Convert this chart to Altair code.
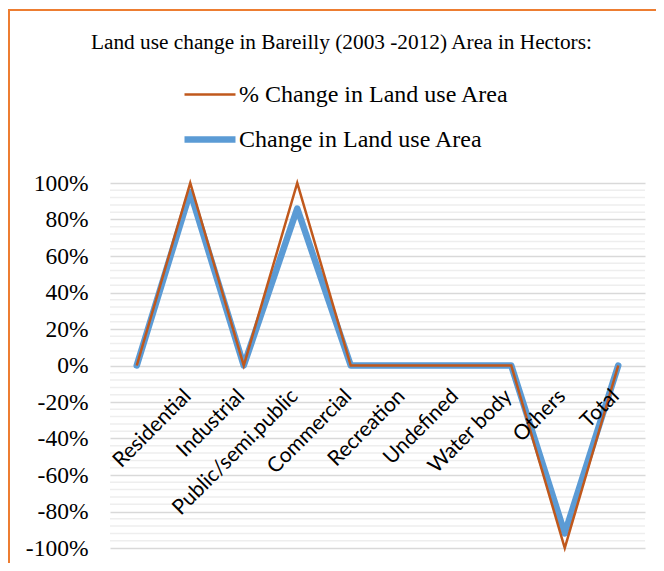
import altair as alt
import pandas as pd

title_text = "Land use change in Bareilly (2003 -2012) Area in Hectors:"
categories = ["", "Residential", "Industrial", "Public/semi.public", "Commercial",
              "Recreation", "Undefined", "Water body", "Others", "Total"]
pct_change = [0, 1.00, 0, 1.00, 0, 0, 0, 0, -1.00, 0]
area_change = [0, 0.95, 0, 0.86, 0, 0, 0, 0, -0.92, 0]
series_names = ["% Change in Land use Area", "Change in Land use Area"]
major_ticks = [-1.0, -0.8, -0.6, -0.4, -0.2, 0.0, 0.2, 0.4, 0.6, 0.8, 1.0]
minor_ticks = [-0.96, -0.92, -0.88, -0.84, -0.76, -0.72, -0.68, -0.64,
               -0.56, -0.52, -0.48, -0.44, -0.36, -0.32, -0.28, -0.24,
               -0.16, -0.12, -0.08, -0.04, 0.04, 0.08, 0.12, 0.16,
               0.24, 0.28, 0.32, 0.36, 0.44, 0.48, 0.52, 0.56,
               0.64, 0.68, 0.72, 0.76, 0.84, 0.88, 0.92, 0.96]

BROWN = "#C0581C"
BLUE = "#5B9BD5"
ORANGE = "#ED7D31"

rows = []
for i, c in enumerate(categories):
    rows.append({"idx": i, "label": c, "series": series_names[0], "value": pct_change[i]})
    rows.append({"idx": i, "label": c, "series": series_names[1], "value": area_change[i]})
df = pd.DataFrame(rows)
cat_df = pd.DataFrame({"idx": list(range(len(categories))), "label": categories, "zero": [0] * len(categories)})
minor_df = pd.DataFrame({"v": minor_ticks})
title_df = pd.DataFrame({"t": [title_text]})

xscale = alt.Scale(domain=[-0.5, len(categories) - 0.5], nice=False, zero=False)
yscale = alt.Scale(domain=[-1, 1], nice=False)

X = alt.X("idx:Q", scale=xscale, axis=None)

main_axis = alt.Axis(
    values=major_ticks, grid=True, gridColor="#D9D9D9", gridWidth=1.5,
    labelExpr="(datum.value < -0.001 ? '-' : '') + format(abs(datum.value), '.0%')",
    labelOverlap=False, domain=False, ticks=False, labelFont="Liberation Serif", labelFontSize=23.5,
    labelColor="#000000", labelPadding=22, title=None)

minor = alt.Chart(minor_df).mark_rule(color="#EEEEEE", strokeWidth=1.5).encode(
    y=alt.Y("v:Q", scale=yscale, axis=main_axis)
)

color = alt.Color("series:N", scale=alt.Scale(domain=series_names, range=[BROWN, BLUE]),
                  legend=alt.Legend(title=None, orient="none", legendX=84, legendY=-102.5,
                                    direction="vertical", symbolType="M-2,0H2", symbolSize=650,
                                    labelFont="Liberation Serif", labelFontSize=24,
                                    labelColor="#000000", labelOffset=13, rowPadding=17,
                                    labelLimit=500))
width = alt.StrokeWidth("series:N", scale=alt.Scale(domain=series_names, range=[2.5, 6.5]),
                        legend=alt.Legend(title=None))

blue_line = alt.Chart(df).transform_filter(alt.datum.series == series_names[1]).mark_line(
    strokeJoin="round", strokeCap="round").encode(
    x=X, y=alt.Y("value:Q", scale=yscale, axis=main_axis), color=color, strokeWidth=width)
brown_line = alt.Chart(df).transform_filter(alt.datum.series == series_names[0]).mark_line(
    strokeJoin="miter").encode(
    x=X, y=alt.Y("value:Q", scale=yscale, axis=main_axis), color=color, strokeWidth=width)

labels = alt.Chart(cat_df).mark_text(angle=315, align="right", baseline="top",
                                     dx=-21.3, dy=7.0, font="Lato", fontSize=21,
                                     color="#000000").encode(
    x=X, y=alt.Y("zero:Q", scale=yscale, axis=main_axis), text="label:N")

title = alt.Chart(title_df).mark_text(align="left", baseline="alphabetic", font="Liberation Serif",
                                      fontSize=21.3, color="#000000").encode(
    x=alt.value(-19), y=alt.value(-134), text="t:N")

border_left = alt.Chart(cat_df).mark_rule(color=ORANGE, strokeWidth=2).encode(
    x=alt.value(-101), y=alt.value(-173), y2=alt.value(380))
border_top = alt.Chart(cat_df).mark_rule(color=ORANGE, strokeWidth=2).encode(
    x=alt.value(-102), x2=alt.value(560), y=alt.value(-173))

chart = alt.layer(minor, blue_line, brown_line, labels, title, border_left, border_top).properties(
    width=535, height=365,
    autosize=alt.AutoSizeParams(type="none"),
    padding={"left": 102, "top": 175, "right": 11, "bottom": 15},
).configure_view(stroke=None)

chart.save("out.html", embed_options={"renderer": "svg", "actions": False})
